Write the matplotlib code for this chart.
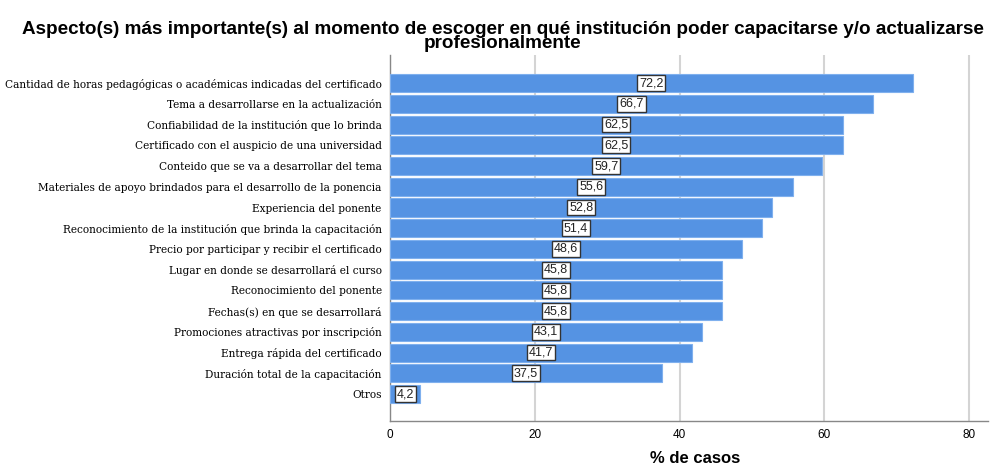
import matplotlib
matplotlib.use("Agg")
import matplotlib.pyplot as plt

categories = [
    "Cantidad de horas pedagógicas o académicas indicadas del certificado",
    "Tema a desarrollarse en la actualización",
    "Confiabilidad de la institución que lo brinda",
    "Certificado con el auspicio de una universidad",
    "Conteido que se va a desarrollar del tema",
    "Materiales de apoyo brindados para el desarrollo de la ponencia",
    "Experiencia del ponente",
    "Reconocimiento de la institución que brinda la capacitación",
    "Precio por participar y recibir el certificado",
    "Lugar en donde se desarrollará el curso",
    "Reconocimiento del ponente",
    "Fechas(s) en que se desarrollará",
    "Promociones atractivas por inscripción",
    "Entrega rápida del certificado",
    "Duración total de la capacitación",
    "Otros",
]
values = [72.2, 66.7, 62.5, 62.5, 59.7, 55.6, 52.8, 51.4, 48.6, 45.8, 45.8, 45.8, 43.1, 41.7, 37.5, 4.2]
xticks = [0, 20, 40, 60, 80]

fig = plt.figure(figsize=(9.9, 4.66), dpi=100)
ax = fig.add_axes([0.394, 0.0966, 0.604, 0.785])

ypos = list(range(len(categories)))
ax.barh(ypos, values, height=0.87, color="#5593E3", edgecolor="#7FB0EE", linewidth=0.8, zorder=3)
for y, v in zip(ypos, values):
    ax.text(v / 2, y, f"{v:.1f}".replace(".", ","), ha="center", va="center",
            fontsize=9, family="Liberation Sans", color="#222222", zorder=4,
            bbox=dict(boxstyle="square,pad=0.15", fc="white", ec="#333333", lw=1.0))

ax.set_ylim(len(categories) - 1 + 1.3, -1.35)
ax.set_xlim(0, 82.6)
ax.set_yticks(ypos)
ax.set_yticklabels(categories, family="DejaVu Serif", fontsize=7.6)
ax.set_xticks(xticks)
ax.set_xticklabels([str(t) for t in xticks], family="Liberation Sans", fontsize=8.5)
ax.tick_params(axis="y", length=0, pad=6)
ax.tick_params(axis="x", length=0, pad=6)
ax.grid(axis="x", color="#D4D4D4", linewidth=1.5, zorder=0)
for s in ["top", "right"]:
    ax.spines[s].set_visible(False)
for s in ["left", "bottom"]:
    ax.spines[s].set_color("#888888")
    ax.spines[s].set_linewidth(1.0)

fig.text(0.702, 0.016, "% de casos", ha="center", va="center",
         family="Liberation Sans", fontsize=12, fontweight="bold")
fig.text(0.508, 0.922, "Aspecto(s) más importante(s) al momento de escoger en qué institución poder capacitarse y/o actualizarse\nprofesionalmente",
         ha="center", va="center", family="Liberation Sans", fontsize=13.6, fontweight="bold", linespacing=0.8)

fig.savefig("out.png", dpi=100)
